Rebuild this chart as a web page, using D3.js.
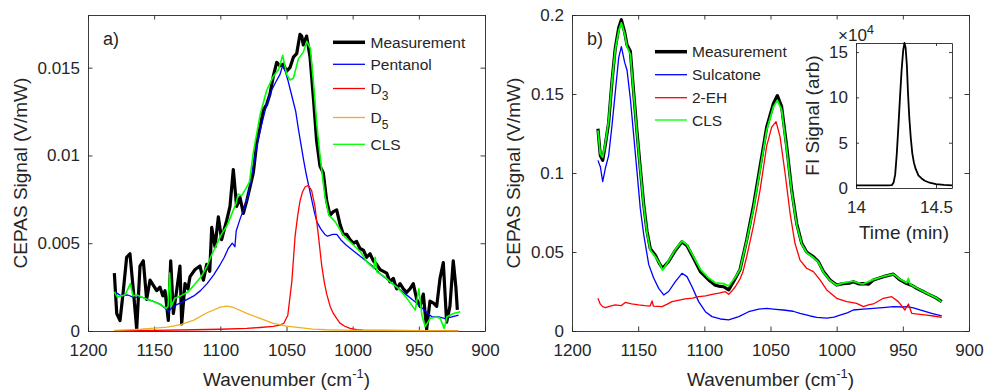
<!DOCTYPE html>
<html>
<head>
<meta charset="utf-8">
<script src="https://cdn.jsdelivr.net/npm/d3@7"></script>
<style>
  body { margin: 0; background: #fff; }
  text { font-family: "Liberation Sans", Arial, Helvetica, sans-serif; fill: #262626; }
</style>
</head>
<body>
<svg id="fig" width="984" height="390"></svg>
<script>
// ---------- panel a) pentanol ----------
var aMeasWn = [1180.1,1178.3,1175.8,1173.3,1170.8,1168.3,1165.7,1163.2,1160.7,1158.2,1155.7,1153.1,1150.6,1148.1,1145.6,1143.5,1141.8,1139.3,1137.5,1135.5,1133,1130.5,1129.2,1126.7,1124.5,1122.9,1119.1,1115.4,1112.8,1110.3,1108,1106.5,1104,1101.5,1099,1097,1095.2,1092.7,1090.2,1087.7,1085.1,1082.6,1080.1,1077.6,1075.1,1072.5,1070,1067.5,1065,1062.5,1060,1057.4,1054.9,1052.4,1049.9,1047.4,1044.8,1042.3,1039.8,1038.5,1037.3,1034.8,1032.2,1029.7,1027.2,1024.7,1022.2,1019.6,1017.1,1014.6,1012.1,1009.6,1007,1004.5,1002,999.5,997,994.5,991.9,989.4,986.9,984.4,981.9,979.3,976.8,974.3,971.8,969.3,966.8,964.2,961.7,959.2,956.7,954.2,951.6,949.1,946.6,944.1,941.6,939.1,936.5,934,931.5,929,926.5,924,922,920.9]
var aMeas = [0.0033,0.0010,0.0006,0.0023,0.0042,0.0044,0.0023,0.0001,0.0037,0.0040,0.0018,0.0029,0.0026,0.0023,0.0025,0.0020,0.0023,0.0006,0.0040,0.0010,0.0023,0.0037,0.0004,0.0027,0.0024,0.0031,0.0035,0.0037,0.0029,0.0038,0.0034,0.0059,0.0048,0.0065,0.0052,0.0058,0.0063,0.0071,0.0092,0.0071,0.0076,0.0067,0.0074,0.0082,0.0090,0.0107,0.0116,0.0126,0.0129,0.0135,0.0145,0.0153,0.0151,0.0152,0.0148,0.0150,0.0156,0.0158,0.0169,0.0168,0.0163,0.0168,0.0156,0.0133,0.0108,0.0094,0.0090,0.0074,0.0066,0.0068,0.0069,0.0061,0.0055,0.0055,0.0052,0.0050,0.0051,0.0047,0.0046,0.0042,0.0044,0.0040,0.0038,0.0035,0.0034,0.0033,0.0028,0.0030,0.0024,0.0027,0.0024,0.0022,0.0024,0.0027,0.0018,0.0014,0.0021,0.0001,0.0017,0.0016,0.0014,0.0030,0.0039,0.0005,0.0014,0.0040,0.0025,0.0012]

var pentanolWn = [1180,1175,1170,1165,1160,1155,1150,1145,1141,1139,1137,1133,1130,1125,1120,1115,1110,1105,1100,1097,1094,1091,1089,1088,1085,1082,1079,1076,1073,1070,1066,1062,1058,1055,1053,1051,1049,1047,1045,1043,1041,1039,1037,1035,1033,1031,1029,1027,1024,1021,1019,1015,1012,1009,1005,1000,995,990,985,980,975,970,965,960,955,950,946,943,940,935,930,925,920]
var pentanol = [0.00225,0.0020,0.00205,0.0019,0.00195,0.0018,0.00168,0.0015,0.00125,0.0011,0.0013,0.0015,0.0016,0.0018,0.0020,0.0023,0.0027,0.0032,0.0038,0.0042,0.0047,0.0050,0.0048,0.0057,0.0064,0.0070,0.0077,0.0090,0.0103,0.0114,0.0126,0.0136,0.0142,0.0146,0.0151,0.0148,0.0143,0.0137,0.0131,0.0125,0.0115,0.0106,0.0097,0.0089,0.0082,0.0075,0.0068,0.0062,0.0058,0.0055,0.0054,0.0055,0.0055,0.0052,0.0049,0.0046,0.0043,0.0040,0.0037,0.0033,0.0030,0.0027,0.0024,0.0021,0.0018,0.0015,0.0012,0.0010,0.0008,0.0008,0.0007,0.0008,0.0009]

var d3Wn = [1180,1150,1120,1100,1080,1070,1060,1055,1052,1049,1046,1043.5,1041.5,1039.8,1038,1036,1033.5,1031,1028.5,1026,1023.5,1021.5,1019.6,1017,1014.6,1012,1009.6,1006,1002,997,992,980,950,920]
var d3v = [0.00002,0.00004,0.00007,0.0001,0.00015,0.0002,0.00026,0.00034,0.00044,0.0009,0.0028,0.0054,0.0066,0.0074,0.0079,0.0082,0.0083,0.0080,0.0071,0.0055,0.0038,0.0028,0.0021,0.0014,0.0010,0.0007,0.00045,0.00027,0.00015,0.00008,0.00005,0.00003,0.00002,0.00001]

var d5Wn = [1180,1170,1160,1150,1140,1130,1120,1110,1100,1095,1090,1080,1070,1060,1050,1040,1030,1020,1000,980,950,920]
var d5v = [0.00003,0.00006,0.0001,0.00016,0.00022,0.00036,0.00062,0.00104,0.00136,0.00142,0.00134,0.0010,0.00072,0.00044,0.00028,0.00019,0.00011,0.00007,0.00004,0.00003,0.00002,0.00001]

var aClsWn = [1180,1178,1175,1172,1168,1166,1163,1160,1155,1150,1145,1141,1139.5,1138.3,1137,1134.5,1130,1124.4,1120,1114.4,1110,1106.8,1103,1099.2,1095,1091.7,1088,1086.6,1084,1081.6,1078,1075,1070,1065,1060,1056,1052.9,1049.8,1047.3,1044.8,1041,1037.2,1034.7,1032,1029.7,1027,1024.7,1021,1018,1013,1007,999.4,994,989.3,984,983,981.7,976,971.6,965,959,952.7,950,947.7,945.2,941.4,937,933.9,930.8,928.8,923.8,918.7]
var aCls = [0.00223,0.00195,0.00200,0.00205,0.0027,0.0020,0.00205,0.00195,0.0018,0.00167,0.0015,0.00129,0.0014,0.0033,0.0014,0.00186,0.0020,0.00223,0.0026,0.0031,0.0037,0.0043,0.0049,0.0055,0.0060,0.0066,0.0073,0.0078,0.0077,0.0080,0.0085,0.0102,0.0123,0.0137,0.0145,0.0149,0.0157,0.0146,0.0143,0.0144,0.0155,0.0159,0.0165,0.0161,0.0142,0.0117,0.0100,0.0077,0.0066,0.0062,0.00545,0.0049,0.0045,0.00394,0.00356,0.0042,0.00337,0.0031,0.0028,0.0024,0.00186,0.00119,0.0024,0.0009,0.00025,0.00072,0.0008,0.00072,0.00015,0.00081,0.0010,0.0011]

// ---------- panel b) sulcatone / 2-EH ----------
var bMeasWn = [1180.4,1178.6,1176.8,1174.8,1172.3,1169.8,1167.3,1164.7,1162.7,1160.2,1158.4,1155.9,1153.4,1150.9,1148.4,1145.8,1143.3,1140.8,1137,1134,1131.5,1127,1121.9,1116.9,1113.1,1108.1,1103,1096.7,1091.7,1088,1085.4,1081.6,1076.6,1073,1068,1063,1057.9,1052.9,1047.8,1044.8,1041.6,1037.8,1034,1030.2,1026.4,1022.7,1017.6,1013.8,1010,1005,1000,995,990,987.4,983,979.8,976,972.3,964.7,957.2,952.1,947.1,943,939.5,935,932,928,924.4,920.6]
var bMeas = [0.128,0.111,0.108,0.118,0.132,0.158,0.179,0.192,0.197,0.189,0.181,0.177,0.151,0.126,0.103,0.080,0.063,0.052,0.048,0.0428,0.0397,0.044,0.051,0.0565,0.054,0.046,0.0376,0.0323,0.029,0.0282,0.028,0.026,0.0333,0.039,0.0576,0.0787,0.104,0.129,0.144,0.149,0.142,0.117,0.0892,0.068,0.0555,0.050,0.047,0.0439,0.0376,0.0323,0.0291,0.030,0.0303,0.0312,0.0298,0.030,0.0296,0.0323,0.0344,0.036,0.0323,0.030,0.0288,0.027,0.0252,0.0238,0.0222,0.0207,0.0186]

var sulcWn = [1180.4,1178.6,1176.8,1174.8,1172.3,1169.8,1167.3,1164.7,1162.7,1160.2,1158.4,1155.9,1153.4,1150.9,1148.4,1145.8,1142,1138.3,1134.5,1130.7,1127,1121.9,1116.9,1113.1,1109.3,1104.3,1099.2,1094.2,1087.9,1081.6,1074,1066.5,1058.9,1052.9,1046,1040.3,1033,1027.7,1020,1015,1007.5,1002,997.5,992,987.4,980,972.3,965,957.2,950,947.1,942,937,932,928.2,920.6]
var sulc = [0.108,0.104,0.0945,0.103,0.111,0.130,0.151,0.173,0.180,0.170,0.165,0.147,0.124,0.101,0.0776,0.061,0.042,0.0335,0.027,0.0228,0.025,0.0312,0.0365,0.0344,0.028,0.0186,0.0122,0.0091,0.0076,0.0070,0.0091,0.0122,0.0139,0.0143,0.0137,0.0133,0.0125,0.0112,0.0095,0.0086,0.0082,0.0088,0.0100,0.0115,0.0133,0.0138,0.0143,0.0148,0.0154,0.0152,0.0154,0.0147,0.0133,0.0121,0.0112,0.0095]

var ehWn = [1180.4,1178.6,1176.8,1174.8,1171,1167.3,1163,1159.7,1155,1149.6,1145,1141,1139.5,1138.5,1132,1128,1124.4,1119,1114.4,1109,1104.3,1099,1094.2,1089,1084.1,1081.6,1079,1076.6,1073,1071,1068,1063,1057.9,1052.9,1049.1,1045.8,1042.8,1039,1035.2,1031.5,1027.7,1022.7,1017.6,1012.6,1007.5,1000,992.4,984.9,979.8,976,972.3,964.7,958.4,953.4,948.4,945.8,943.3,937,932,926.9,920.6]
var eh = [0.0207,0.0170,0.0154,0.0148,0.0158,0.0165,0.0160,0.0181,0.0172,0.0165,0.0160,0.0158,0.0190,0.0158,0.0154,0.0170,0.0186,0.0195,0.0203,0.0208,0.0217,0.0222,0.0232,0.0240,0.0249,0.0232,0.0255,0.0280,0.033,0.037,0.047,0.066,0.0892,0.117,0.129,0.1325,0.123,0.100,0.0745,0.0555,0.0449,0.0397,0.0376,0.0323,0.026,0.0207,0.0186,0.0175,0.0154,0.0165,0.0171,0.0207,0.0217,0.0186,0.0133,0.0171,0.0112,0.0105,0.0100,0.0095,0.0086]

var bClsWn = [1180.4,1178.6,1176.8,1174.8,1172.3,1169.8,1167.3,1164.7,1162.7,1160.2,1158.4,1155.9,1153.4,1150.9,1148.4,1145.8,1143.3,1140.8,1137,1134,1131.5,1127,1121.9,1116.9,1113.1,1108.1,1103,1096.7,1091.7,1085.4,1081.6,1076.6,1073,1068,1063,1057.9,1052.9,1047.8,1044.8,1041.6,1037.8,1034,1030.2,1026.4,1022.7,1017.6,1013.8,1010,1005,1000,995,987.4,982,979.8,972.3,964.7,957.2,952.1,947.1,945.8,944.5,939.5,932,924.4,920.6]
var bCls = [0.127,0.112,0.110,0.119,0.133,0.158,0.178,0.190,0.195,0.188,0.180,0.175,0.150,0.125,0.102,0.079,0.062,0.051,0.047,0.043,0.0386,0.0445,0.0515,0.057,0.0545,0.047,0.039,0.0335,0.0305,0.030,0.0285,0.034,0.039,0.057,0.077,0.102,0.127,0.142,0.146,0.140,0.115,0.088,0.067,0.055,0.0495,0.0465,0.0435,0.0372,0.032,0.029,0.0305,0.0315,0.0300,0.0298,0.0325,0.0345,0.036,0.0328,0.0305,0.0333,0.0295,0.0272,0.0240,0.0208,0.0183]

// ---------- inset: FI chromatogram ----------
var fiTime = [14.0,14.1,14.2,14.225,14.235,14.245,14.255,14.265,14.275,14.285,14.295,14.303,14.31,14.318,14.325,14.333,14.342,14.352,14.362,14.373,14.39,14.41,14.43,14.46,14.5,14.55,14.6]
var fiSignal = [3000,3000,3000,3200,6000,15000,38000,68000,100000,130000,152000,160000,155000,135000,105000,78000,56000,38000,28000,21000,14000,10500,8000,5800,4300,3400,3000]

// ticks
var wnTicks = [1200,1150,1100,1050,1000,950,900]
var aYTicks = [0,0.005,0.01,0.015]
var bYTicks = [0,0.05,0.1,0.15,0.2]
var fiXTicks = [14,14.5]
var fiYTicks = [0,50000,100000,150000]

var svg = d3.select("#fig")
var axisColor = "#262626"
var numFmt = d => d === 0 ? "0" : String(+d.toFixed(4))

function drawBox(x, y, xt, yt, xf, yf, tl, fs) {
   var r = x.range(), s = y.range()
   var g = svg.append("g")
   g.append("g").attr("transform", "translate(0," + s[0] + ")")
      .call(d3.axisBottom(x).tickValues(xt).tickFormat(xf).tickSizeInner(-tl).tickSizeOuter(0).tickPadding(13))
   g.append("g").attr("transform", "translate(0," + s[1] + ")")
      .call(d3.axisTop(x).tickValues(xt).tickFormat("").tickSizeInner(-tl).tickSizeOuter(0))
   g.append("g").attr("transform", "translate(" + r[0] + ",0)")
      .call(d3.axisLeft(y).tickValues(yt).tickFormat(yf).tickSizeInner(-tl).tickSizeOuter(0).tickPadding(8))
   g.append("g").attr("transform", "translate(" + r[1] + ",0)")
      .call(d3.axisRight(y).tickValues(yt).tickFormat("").tickSizeInner(-tl).tickSizeOuter(0))
   g.selectAll("path.domain, .tick line").attr("stroke", axisColor).attr("stroke-width", 0.9)
   g.selectAll("g").attr("font-family", null).attr("font-size", null)
   g.selectAll(".tick text").style("font-size", fs + "px").attr("fill", axisColor)
   return g
}

function drawLine(x, y, xs, ys, color, width) {
   var line = d3.line().x(d => x(d[0])).y(d => y(d[1]))
   svg.append("path")
      .datum(d3.zip(xs, ys))
      .attr("d", line)
      .attr("fill", "none")
      .attr("stroke", color)
      .attr("stroke-width", width)
      .attr("stroke-linejoin", "round")
}

function wnLabel(cx) {
   var t = svg.append("text").attr("x", cx).attr("y", 386).attr("text-anchor", "middle").style("font-size", "19px")
   t.append("tspan").text("Wavenumber (cm")
   t.append("tspan").text("-1").style("font-size", "13px").attr("dy", -8)
   t.append("tspan").text(")").attr("dy", 8)
}

function yLabel(bx, cy, txt) {
   svg.append("text").attr("transform", "translate(" + bx + "," + cy + ") rotate(-90)")
      .attr("text-anchor", "middle").style("font-size", "19px").text(txt)
}

function legend(items, x0, x1, tx, ys) {
   items.forEach(function(it, i) {
      svg.append("line").attr("x1", x0).attr("x2", x1).attr("y1", ys[i]).attr("y2", ys[i])
         .attr("stroke", it.color).attr("stroke-width", it.w)
      var t = svg.append("text").attr("x", tx).attr("y", ys[i] + 5.5).style("font-size", "15.5px")
      t.append("tspan").text(it.name)
      if (it.sub) t.append("tspan").text(it.sub).style("font-size", "12px").attr("dy", 6)
   })
}

// ---- panel a
var xa = d3.scaleLinear().domain([1200, 900]).range([88, 485])
var ya = d3.scaleLinear().domain([0, 0.018]).range([331, 15])
drawBox(xa, ya, wnTicks, aYTicks, d3.format("d"), numFmt, 4.5, 17)
drawLine(xa, ya, aMeasWn, aMeas, "#000000", 3.2)
drawLine(xa, ya, pentanolWn, pentanol, "#0000ff", 1.3)
drawLine(xa, ya, d3Wn, d3v, "#ff0000", 1.3)
drawLine(xa, ya, d5Wn, d5v, "#edb120", 1.3)
drawLine(xa, ya, aClsWn, aCls, "#00ff00", 1.6)
svg.append("text").attr("x", 103).attr("y", 45).style("font-size", "18px").text("a)")
legend([
   {name: "Measurement", color: "#000", w: 3.5},
   {name: "Pentanol", color: "#0000ff", w: 1.3},
   {name: "D", sub: "3", color: "#ff0000", w: 1.3},
   {name: "D", sub: "5", color: "#edb120", w: 1.3},
   {name: "CLS", color: "#00ff00", w: 1.3}
], 333, 365, 370.5, [42.3, 64.3, 88.5, 117.5, 144.3])
wnLabel(286.5)
yLabel(27, 173, "CEPAS Signal (V/mW)")

// ---- panel b
var xb = d3.scaleLinear().domain([1200, 900]).range([572, 969])
var yb = d3.scaleLinear().domain([0, 0.2]).range([331, 15])
drawBox(xb, yb, wnTicks, bYTicks, d3.format("d"), numFmt, 4.5, 17)
drawLine(xb, yb, bMeasWn, bMeas, "#000000", 3.2)
drawLine(xb, yb, sulcWn, sulc, "#0000ff", 1.3)
drawLine(xb, yb, ehWn, eh, "#ff0000", 1.3)
drawLine(xb, yb, bClsWn, bCls, "#00ff00", 1.8)
svg.append("text").attr("x", 587).attr("y", 45).style("font-size", "18px").text("b)")
legend([
   {name: "Measurement", color: "#000", w: 3.5},
   {name: "Sulcatone", color: "#0000ff", w: 1.3},
   {name: "2-EH", color: "#ff0000", w: 1.3},
   {name: "CLS", color: "#00ff00", w: 1.3}
], 655, 687, 692, [51.7, 74.7, 97.7, 120])
wnLabel(770.5)
yLabel(520, 173, "CEPAS Signal (V/mW)")

// ---- inset
var xi = d3.scaleLinear().domain([14, 14.6]).range([856, 952])
var yi = d3.scaleLinear().domain([0, 160000]).range([188, 43])
svg.append("rect").attr("x", 856).attr("y", 43).attr("width", 96).attr("height", 145).attr("fill", "#fff")
drawBox(xi, yi, fiXTicks, fiYTicks, d => String(d), d => String(d / 10000), 3, 17)
drawLine(xi, yi, fiTime, fiSignal, "#000000", 1.8)
var mult = svg.append("text").attr("x", 838).attr("y", 41).style("font-size", "17px")
mult.append("tspan").text("\u00d710")
mult.append("tspan").text("4").style("font-size", "13px").attr("dy", -7)
svg.append("text").attr("x", 904).attr("y", 239).attr("text-anchor", "middle").style("font-size", "19px").text("Time (min)")
yLabel(819, 115.5, "FI Signal (arb)")
</script>
</body>
</html>
